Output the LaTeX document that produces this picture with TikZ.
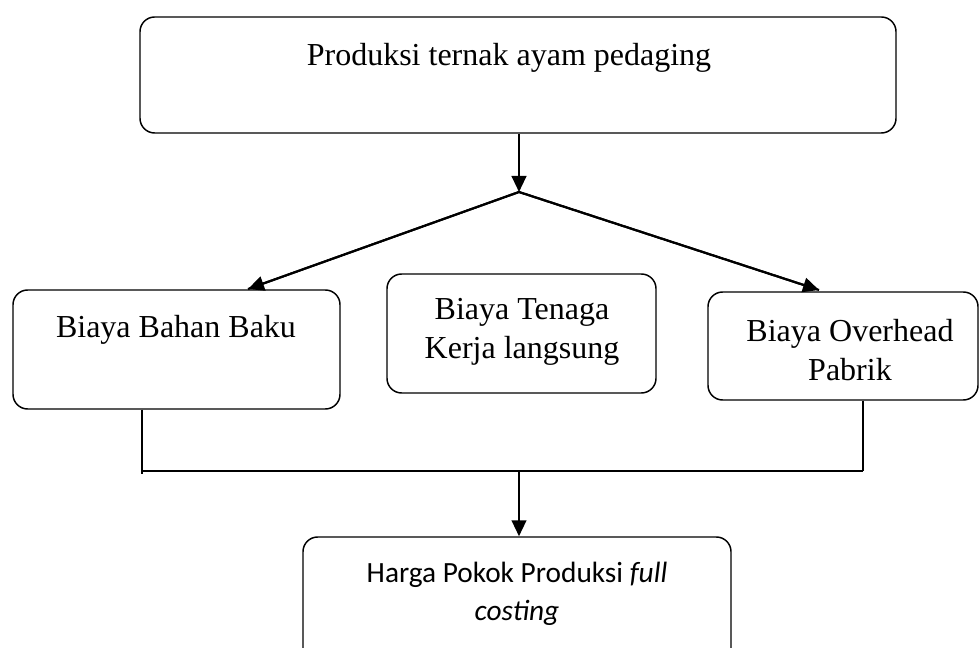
\documentclass[tikz,border=0pt]{standalone}
\usepackage{fontspec}
\setmainfont{Liberation Serif}
\newfontfamily\calib{Carlito}
\usetikzlibrary{arrows.meta}
\begin{document}
\begin{tikzpicture}[x=0.75pt,y=-0.75pt,
  box/.style={draw, line width=1.1pt, rounded corners=11pt, inner sep=0pt},
  txt/.style={font=\fontsize{24}{29}\selectfont, align=center, inner sep=0pt},
  stxt/.style={font=\calib\fontsize{22}{28.5}\selectfont, align=center, inner sep=0pt},
  arr/.style={line width=1.6pt, -{Triangle[length=12pt,width=11pt]}},
  ln/.style={line width=1.1pt}]
\useasboundingbox (0,0) rectangle (979,648);
\clip (0,0) rectangle (979,648);
% top box
\node[box, minimum width=756*0.75pt, minimum height=116*0.75pt] (top) at (518,75) {};
\node[txt] (toptxt) at (509,57.6) {Produksi ternak ayam pedaging};
% middle row
\node[box, minimum width=327*0.75pt, minimum height=119*0.75pt] (bbb) at (176.5,349.5) {};
\node[txt] (bbbtxt) at (176,330) {Biaya Bahan Baku};
\node[box, minimum width=269*0.75pt, minimum height=119*0.75pt] (btk) at (521.5,333.5) {};
\node[txt] (btktxt) at (522,332) {Biaya Tenaga\\Kerja langsung};
\node[box, minimum width=270*0.75pt, minimum height=108*0.75pt] (bop) at (843,346) {};
\node[txt] (boptxt) at (850,350) {Biaya Overhead\\Pabrik};
% bottom box
\node[box, minimum width=428*0.75pt, minimum height=130*0.75pt] (hpp) at (517,602) {};
\node[stxt] (hpptxt) at (517,594) {Harga Pokok Produksi \textit{full}\\\textit{costing}};
% connectors
\coordinate (split) at (519,192);
\coordinate (la) at (248,289);
\coordinate (ra) at (819,290);
\draw[arr] (top.south -| split) -- (split);
\draw[line width=1.6pt, line join=miter] (la) -- (split) -- (ra);
\draw[arr] (split) -- (la);
\draw[arr] (split) -- (ra);
\coordinate (jl) at (142,471);
\coordinate (jr) at (863,471);
\coordinate (jm) at (519,471);
\draw[ln] (bbb.south -| jl) -- (142,474);
\draw[ln] (bop.south -| jr) -- (jr);
\draw[ln] (jl) -- (jr);
\draw[arr] (jm) -- (hpp.north -| jm);
\end{tikzpicture}
\end{document}
